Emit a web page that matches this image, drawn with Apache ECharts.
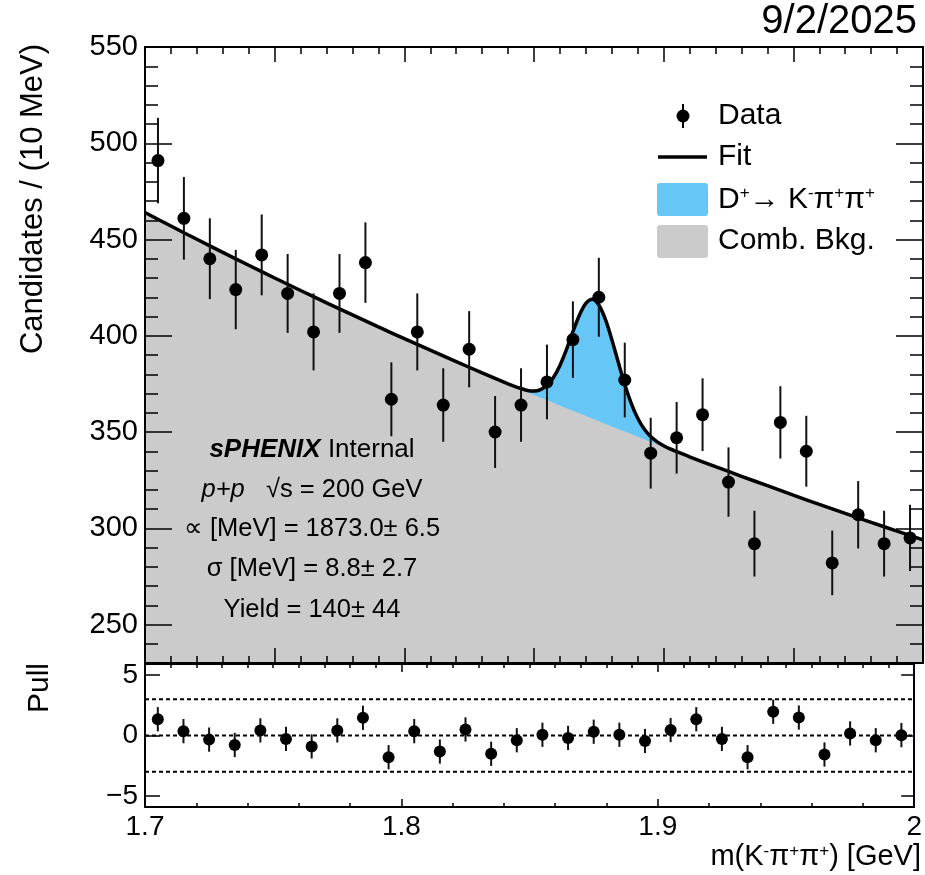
<!DOCTYPE html>
<html>
<head>
<meta charset="utf-8">
<title>D+ mass fit</title>
<script src="https://cdn.jsdelivr.net/npm/echarts@6/dist/echarts.min.js"></script>
<style>
  html, body { margin: 0; padding: 0; background: #fff; }
  #chart { width: 925px; height: 875px; }
</style>
</head>
<body>
<div id="chart"></div>
<script>
// bin centres (10 MeV bins) and candidate counts
var binCenters = [1.705, 1.715, 1.725, 1.735, 1.745, 1.755, 1.765, 1.775, 1.785, 1.795,
                  1.805, 1.815, 1.825, 1.835, 1.845, 1.855, 1.865, 1.875, 1.885, 1.895,
                  1.905, 1.915, 1.925, 1.935, 1.945, 1.955, 1.965, 1.975, 1.985, 1.995];
var counts = [491, 461, 440, 424, 442, 422, 402, 422, 438, 367,
              402, 364, 393, 350, 364, 376, 398, 420, 377, 339,
              347, 359, 324, 292, 355, 340, 282, 307, 292, 295];
var countErr = [22.2, 21.5, 21.0, 20.6, 21.0, 20.5, 20.0, 20.5, 20.9, 19.2,
                20.0, 19.1, 19.8, 18.7, 19.1, 19.4, 19.9, 20.5, 19.4, 18.4,
                18.6, 18.9, 18.0, 17.1, 18.8, 18.4, 16.8, 17.5, 17.1, 17.2];
var pulls = [1.34, 0.36, -0.34, -0.78, 0.42, -0.28, -0.90, 0.42, 1.46, -1.79,
             0.36, -1.32, 0.50, -1.51, -0.39, 0.06, -0.20, 0.31, 0.06, -0.45,
             0.45, 1.34, -0.28, -1.79, 1.96, 1.48, -1.57, 0.17, -0.39, 0.03];

// fit curve sampled along the mass axis
var massGrid = [1.70, 1.71, 1.72, 1.73, 1.74, 1.75, 1.76, 1.77, 1.78, 1.79, 1.80, 1.81, 1.82, 1.83,
                1.84, 1.8425, 1.845, 1.8475, 1.85, 1.8525, 1.855, 1.8575, 1.86, 1.8625, 1.865, 1.8675,
                1.87, 1.8725, 1.875, 1.8775, 1.88, 1.8825, 1.885, 1.8875, 1.89, 1.8925, 1.895, 1.8975,
                1.90, 1.9025, 1.905,
                1.91, 1.92, 1.93, 1.94, 1.95, 1.96, 1.97, 1.98, 1.99, 2.00];
var bkgCurve = [464.0, 457.0, 450.1, 443.3, 436.6, 430.0, 423.5, 417.1, 410.8, 404.6, 398.5, 392.5, 386.6, 380.7,
                375.0, 373.6, 372.2, 370.7, 369.3, 367.9, 366.6, 365.2, 363.8, 362.4, 361.1, 359.7,
                358.3, 357.0, 355.6, 354.2, 352.9, 351.6, 350.2, 348.9, 347.5, 346.2, 344.9, 343.6,
                342.3, 341.0, 339.7,
                337.1, 332.0, 327.0, 322.1, 317.2, 312.4, 307.7, 303.1, 298.5, 294.0];
var fitCurve = [464.0, 457.0, 450.1, 443.3, 436.6, 430.0, 423.5, 417.1, 410.8, 404.6, 398.5, 392.5, 386.6, 380.7,
                375.0, 373.7, 372.6, 371.6, 371.3, 372.0, 374.3, 378.3, 384.6, 392.8, 402.1, 410.7,
                416.8, 418.9, 416.0, 408.6, 398.1, 386.2, 374.7, 364.9, 357.1, 351.5, 347.6, 344.9,
                342.9, 341.2, 339.8,
                337.1, 332.0, 327.0, 322.1, 317.2, 312.4, 307.7, 303.1, 298.5, 294.0];

var yTicksTop = [250, 300, 350, 400, 450, 500, 550];
var yTicksPull = [-5, 0, 5];
var pullRefs = [3, 0, -3];

var FONT = 'Liberation Sans, Arial, Helvetica, sans-serif';

var chart = echarts.init(document.getElementById('chart'), null, { renderer: 'canvas' });

function errBar(params, api) {
  var x = api.value(0), y = api.value(1), e = api.value(2);
  var p1 = api.coord([x, y + e]);
  var p2 = api.coord([x, y - e]);
  return {
    type: 'line',
    shape: { x1: p1[0], y1: p1[1], x2: p2[0], y2: p2[1] },
    style: { stroke: '#111', lineWidth: 2 }
  };
}

function xAxisDef(grid, pos, interval, major, minorSplit, minor, showLabel) {
  return {
    type: 'value', gridIndex: grid, position: pos, min: 1.7, max: 2.0, interval: interval, z: 10,
    axisLine: { show: true, onZero: false, lineStyle: { color: '#000', width: 2 } },
    axisTick: { show: true, inside: true, length: major, lineStyle: { color: '#000', width: 1.5 } },
    minorTick: { show: true, splitNumber: minorSplit, length: minor, lineStyle: { color: '#000', width: 1.5 } },
    axisLabel: { show: showLabel, color: '#000', fontSize: 28, fontFamily: FONT, margin: 6 },
    splitLine: { show: false }, minorSplitLine: { show: false }
  };
}

function yAxisDef(grid, pos, min, max, opts) {
  var a = {
    type: 'value', gridIndex: grid, position: pos, min: min, max: max, z: 10,
    axisLine: { show: opts.line, onZero: false, lineStyle: { color: '#000', width: 2 } },
    axisTick: { show: true, inside: true, length: opts.len, lineStyle: { color: '#000', width: 1.5 } },
    axisLabel: { show: false },
    splitLine: { show: false }
  };
  if (opts.interval) a.interval = opts.interval;
  if (opts.ticks) a.axisTick.customValues = opts.ticks;
  if (opts.labels) {
    a.axisLabel = {
      show: true, customValues: opts.labels, color: '#000', fontSize: opts.fs, fontFamily: FONT, margin: 7,
      formatter: function (v) { return v < 0 ? '\u2212' + Math.abs(v) : String(v); }
    };
  } else {
    a.axisLabel = { show: false, customValues: opts.ticks || undefined };
  }
  return a;
}

var dataPts = binCenters.map(function (m, i) { return [m, counts[i], countErr[i]]; });
var pullPts = binCenters.map(function (m, i) { return [m, pulls[i], 1]; });

var series = [
  // signal + background under the fit (blue), then background alone on top (grey)
  {
    name: 'Signal', type: 'line', xAxisIndex: 0, yAxisIndex: 0,
    data: massGrid.map(function (m, i) { return [m, fitCurve[i]]; }),
    showSymbol: false, symbol: 'none', smooth: 0.3, lineStyle: { width: 0 },
    areaStyle: { color: '#66c7f6', opacity: 1, origin: 'start' }, z: 1, silent: true
  },
  {
    name: 'Comb. Bkg.', type: 'line', xAxisIndex: 0, yAxisIndex: 0,
    data: massGrid.map(function (m, i) { return [m, bkgCurve[i]]; }),
    showSymbol: false, symbol: 'none', lineStyle: { width: 0 },
    areaStyle: { color: '#cbcbcb', opacity: 1, origin: 'start' }, z: 2, silent: true
  },
  {
    name: 'Fit', type: 'line', xAxisIndex: 0, yAxisIndex: 0,
    data: massGrid.map(function (m, i) { return [m, fitCurve[i]]; }),
    showSymbol: false, symbol: 'none', smooth: 0.3,
    lineStyle: { color: '#000', width: 3.5 }, z: 3, silent: true
  },
  {
    name: 'DataErr', type: 'custom', xAxisIndex: 0, yAxisIndex: 0,
    renderItem: errBar, encode: { x: 0, y: 1 }, data: dataPts, z: 4, silent: true
  },
  {
    name: 'Data', type: 'scatter', xAxisIndex: 0, yAxisIndex: 0,
    data: dataPts.map(function (d) { return [d[0], d[1]]; }),
    symbolSize: 13, itemStyle: { color: '#000', opacity: 1 }, z: 5, silent: true
  },
  {
    name: 'PullErr', type: 'custom', xAxisIndex: 2, yAxisIndex: 4,
    renderItem: errBar, encode: { x: 0, y: 1 }, data: pullPts, z: 4, silent: true
  },
  {
    name: 'Pull', type: 'scatter', xAxisIndex: 2, yAxisIndex: 4,
    data: pullPts.map(function (d) { return [d[0], d[1]]; }),
    symbolSize: 12, itemStyle: { color: '#000', opacity: 1 }, z: 5, silent: true
  }
];

pullRefs.forEach(function (v) {
  series.push({
    type: 'line', xAxisIndex: 2, yAxisIndex: 4, data: [[1.7, v], [2.0, v]],
    symbol: 'none', lineStyle: { color: '#000', width: 2, type: [4, 3] }, z: 2, silent: true
  });
});

var sup = { fontSize: 17, fontFamily: FONT, verticalAlign: 'top', fill: '#000', lineHeight: 30 };

var option = {
  animation: false,
  backgroundColor: '#fff',
  grid: [
    { left: 145, top: 47, width: 778, height: 616, show: false },
    { left: 145, top: 664, width: 778, height: 143, show: false }
  ],
  xAxis: [
    xAxisDef(0, 'bottom', 0.05, 15, 5, 7, false),
    xAxisDef(0, 'top', 0.05, 15, 5, 7, false),
    xAxisDef(1, 'bottom', 0.1, 8, 5, 4, true),
    xAxisDef(1, 'top', 0.1, 8, 10, 4, false)
  ],
  yAxis: [
    yAxisDef(0, 'left', 230, 550, { line: true, len: 27, ticks: yTicksTop, labels: yTicksTop, fs: 29 }),
    yAxisDef(0, 'left', 230, 550, { line: false, len: 13, interval: 10 }),
    yAxisDef(0, 'right', 230, 550, { line: true, len: 27, ticks: yTicksTop }),
    yAxisDef(0, 'right', 230, 550, { line: false, len: 13, interval: 10 }),
    yAxisDef(1, 'left', -5.9, 5.9, { line: true, len: 15, ticks: yTicksPull, labels: yTicksPull, fs: 28 }),
    yAxisDef(1, 'right', -5.9, 5.9, { line: true, len: 13, ticks: yTicksPull })
  ],
  series: series,
  graphic: [
    // date stamp
    { type: 'text', x: 917, y: 22, style: { text: '9/2/2025', font: '40px ' + FONT, fill: '#000', align: 'right', verticalAlign: 'middle' } },
    // axis titles
    { type: 'text', x: 33, y: 199, rotation: Math.PI / 2,
      style: { text: 'Candidates / (10 MeV)', font: '31px ' + FONT, fill: '#000', align: 'center', verticalAlign: 'middle' } },
    { type: 'text', x: 40, y: 688, rotation: Math.PI / 2,
      style: { text: 'Pull', font: '30px ' + FONT, fill: '#000', align: 'center', verticalAlign: 'middle' } },
    { type: 'text', x: 921, y: 857,
      style: { text: 'm(K{s|-}\u03c0{s|+}\u03c0{s|+}) [GeV]', font: '29px ' + FONT, fill: '#000', align: 'right', verticalAlign: 'middle',
               rich: { s: { fontSize: 17, fontFamily: FONT, verticalAlign: 'top', lineHeight: 29 } } } },
    // legend
    { type: 'line', shape: { x1: 683, y1: 104, x2: 683, y2: 128 }, style: { stroke: '#000', lineWidth: 2 }, z: 20 },
    { type: 'circle', shape: { cx: 683, cy: 116, r: 6.5 }, style: { fill: '#000' }, z: 20 },
    { type: 'line', shape: { x1: 658, y1: 157, x2: 707, y2: 157 }, style: { stroke: '#000', lineWidth: 3.5 }, z: 20 },
    { type: 'rect', shape: { x: 657, y: 183, width: 51, height: 33, r: 3 }, style: { fill: '#66c7f6' }, z: 20 },
    { type: 'rect', shape: { x: 657, y: 225, width: 51, height: 33, r: 3 }, style: { fill: '#cbcbcb' }, z: 20 },
    { type: 'text', x: 718, y: 116, style: { text: 'Data', font: '30px ' + FONT, fill: '#000', verticalAlign: 'middle' }, z: 20 },
    { type: 'text', x: 718, y: 157, style: { text: 'Fit', font: '30px ' + FONT, fill: '#000', verticalAlign: 'middle' }, z: 20 },
    { type: 'text', x: 718, y: 200,
      style: { text: 'D{s|+}\u2192 K{s|-}\u03c0{s|+}\u03c0{s|+}', font: '30px ' + FONT, fill: '#000', verticalAlign: 'middle',
               rich: { s: sup } }, z: 20 },
    { type: 'text', x: 718, y: 241, style: { text: 'Comb. Bkg.', font: '30px ' + FONT, fill: '#000', verticalAlign: 'middle' }, z: 20 },
    // fit summary text
    { type: 'text', x: 312, y: 450,
      style: { text: '{b|sPHENIX} Internal', font: '26px ' + FONT, fill: '#000', align: 'center', verticalAlign: 'middle',
               rich: { b: { fontSize: 26, fontFamily: FONT, fontWeight: 'bold', fontStyle: 'italic' } } }, z: 20 },
    { type: 'text', x: 312, y: 490,
      style: { text: '{i|p+p}   \u221as = 200 GeV', font: '25.5px ' + FONT, fill: '#000', align: 'center', verticalAlign: 'middle',
               rich: { i: { fontSize: 25.5, fontFamily: FONT, fontStyle: 'italic' } } }, z: 20 },
    { type: 'text', x: 312, y: 529,
      style: { text: '\u221d [MeV] = 1873.0\u00b1 6.5', font: '25.5px ' + FONT, fill: '#000', align: 'center', verticalAlign: 'middle' }, z: 20 },
    { type: 'text', x: 312, y: 569,
      style: { text: '\u03c3 [MeV] = 8.8\u00b1 2.7', font: '25.5px ' + FONT, fill: '#000', align: 'center', verticalAlign: 'middle' }, z: 20 },
    { type: 'text', x: 312, y: 610,
      style: { text: 'Yield = 140\u00b1 44', font: '25.5px ' + FONT, fill: '#000', align: 'center', verticalAlign: 'middle' }, z: 20 }
  ]
};

chart.setOption(option);
</script>
</body>
</html>
